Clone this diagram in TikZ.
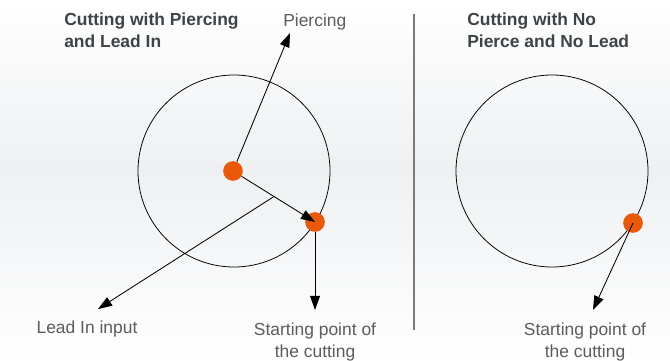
\documentclass[tikz,border=0pt]{standalone}
\usepackage{fontspec}
\setmainfont{Liberation Sans}
\usepackage{xcolor}
\usetikzlibrary{arrows.meta, calc}

\definecolor{cutorange}{HTML}{E8590C}
\definecolor{titlegray}{HTML}{3E4347}
\definecolor{labelgray}{HTML}{5C5C5C}
\definecolor{bandgray}{HTML}{EEF0F2}
\definecolor{divgray}{HTML}{7A7A7A}

\begin{document}
\begin{tikzpicture}[
  x=0.025cm, y=-0.025cm,
  title/.style={font=\fontsize{12.4}{15}\selectfont\bfseries, text=titlegray,
                align=left, anchor=north west, inner sep=0pt},
  lbl/.style={font=\fontsize{12.4}{15}\selectfont, text=labelgray,
              align=center, inner sep=0pt},
  contour/.style={draw=black, line width=0.55pt},
  dot/.style={circle, fill=cutorange, minimum size=14pt, inner sep=0pt},
  arrow/.style={-{Triangle[length=10pt, width=7pt]}, line width=0.6pt}
]
  \useasboundingbox (0,0) rectangle (670,361);

  % background band
  \shade[top color=white, bottom color=bandgray] (0,0) rectangle (670,170);
  \shade[top color=bandgray, bottom color=white] (0,170) rectangle (670,361);

  %--- Left: Piercing and Lead In ---
  \node[title] (t1) at (64,13) {Cutting with Piercing\\and Lead In};

  \draw[contour] (234,171) circle[radius=96];

  \node[dot] (c1) at (233,171) {};
  \node[dot] (s1) at (315,222) {};
  \coordinate (lead) at ($(c1)!0.5!(s1)$);

  \coordinate (ptip) at (290,33);
  \coordinate (ltip) at (98,309);
  \coordinate (stip1) at (315,310);

  \node[lbl, anchor=base west] (pierce) at (283,27) {Piercing};
  \node[lbl, anchor=base] (leadin) at (87,333) {Lead In input};
  \node[lbl, anchor=north] (start1) at (315,323) {Starting point of\\the cutting};

  \draw[arrow] (c1) -- (ptip);
  \draw[arrow] (c1) -- (s1.center);
  \draw[arrow] (lead) -- (ltip);
  \draw[arrow] (s1) -- (stip1);

  % Divider
  \draw[divgray, line width=1pt] (414,14) -- (414,330);

  %--- Right: No Pierce and No Lead ---
  \node[title] (t2) at (467,13) {Cutting with No\\Pierce and No Lead};

  \draw[contour] (552,171) circle[radius=96];

  \node[dot] (s2) at (633,223) {};
  \coordinate (stip2) at (593,310);
  \node[lbl, anchor=north] (start2) at (585,323) {Starting point of\\the cutting};

  \draw[arrow] (s2.center) -- (stip2);

\end{tikzpicture}
\end{document}
